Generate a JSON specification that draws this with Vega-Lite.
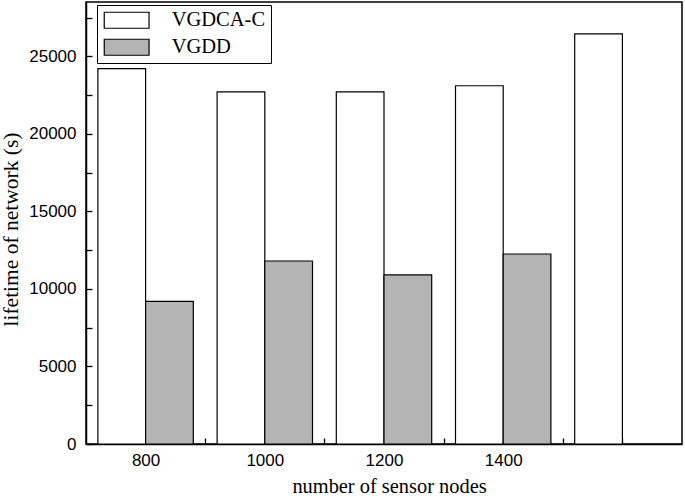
{
  "$schema": "https://vega.github.io/schema/vega-lite/v6.json",
  "width": 596,
  "height": 442,
  "autosize": {"type": "none"},
  "padding": {"left": 86, "top": 2, "right": 3, "bottom": 53},
  "background": "white",
  "config": {
    "view": {"stroke": "black", "strokeWidth": 1.5},
    "axis": {
      "domainColor": "black",
      "domainWidth": 1.5,
      "tickColor": "black",
      "tickWidth": 1.3,
      "grid": false,
      "labelFont": "Liberation Sans",
      "labelFontSize": 17,
      "labelColor": "black",
      "titleFont": "Liberation Serif",
      "titleFontWeight": "normal",
      "titleColor": "black"
    }
  },
  "data": {
    "values": [
      {"n": 800, "series": "VGDCA-C", "lifetime": 24200},
      {"n": 1000, "series": "VGDCA-C", "lifetime": 22700},
      {"n": 1200, "series": "VGDCA-C", "lifetime": 22700},
      {"n": 1400, "series": "VGDCA-C", "lifetime": 23100},
      {"n": 1600, "series": "VGDCA-C", "lifetime": 26450},
      {"n": 800, "series": "VGDD", "lifetime": 9200},
      {"n": 1000, "series": "VGDD", "lifetime": 11800},
      {"n": 1200, "series": "VGDD", "lifetime": 10900},
      {"n": 1400, "series": "VGDD", "lifetime": 12250}
    ]
  },
  "encoding": {
    "x": {
      "field": "n",
      "type": "quantitative",
      "scale": {"domain": [700, 1700], "nice": false, "zero": false, "padding": 0},
      "axis": {
        "title": "number of sensor nodes",
        "titleFontSize": 20.4,
        "titleX": 303,
        "titleY": 48,
        "titleBaseline": "alphabetic",
        "titleAlign": "center",
        "values": [800, 900, 1000, 1100, 1200, 1300, 1400, 1500, 1600],
        "labelExpr": "(datum.value % 200 == 0 && datum.value <= 1400) ? datum.value : ''",
        "tickSize": -6,
        "labelPadding": 14
      }
    },
    "y": {
      "field": "lifetime",
      "type": "quantitative",
      "scale": {"domain": [0, 28500], "nice": false},
      "axis": {
        "title": "lifetime of network (s)",
        "titleFontSize": 21.5,
        "titleX": -69,
        "titleY": 227,
        "titleAngle": -90,
        "titleBaseline": "alphabetic",
        "titleAlign": "center",
        "values": [0, 2500, 5000, 7500, 10000, 12500, 15000, 17500, 20000, 22500, 25000, 27500],
        "labelExpr": "datum.value % 5000 == 0 ? datum.value : ''",
        "tickSize": -6,
        "labelPadding": 16
      }
    },
    "fill": {
      "field": "series",
      "type": "nominal",
      "scale": {"domain": ["VGDCA-C", "VGDD"], "range": ["white", "#b4b4b4"]},
      "legend": {
        "title": null,
        "orient": "none",
        "legendX": 11,
        "legendY": 3,
        "strokeColor": "black",
        "padding": 5,
        "rowPadding": 5,
        "symbolOffset": 14.4,
        "labelOffset": 34.8,
        "labelFont": "Liberation Serif",
        "labelFontSize": 20.5,
        "labelColor": "black",
        "symbolType": "M-2.8,-1L2.8,-1L2.8,1L-2.8,1Z",
        "symbolSize": 256,
        "symbolStrokeColor": "black",
        "symbolStrokeWidth": 1.2
      }
    }
  },
  "layer": [
    {
      "transform": [{"filter": "datum.series == 'VGDCA-C'"}],
      "mark": {"type": "bar", "width": 47.7, "xOffset": -23.85, "stroke": "black", "strokeWidth": 1.2}
    },
    {
      "transform": [{"filter": "datum.series == 'VGDD'"}],
      "mark": {"type": "bar", "width": 47.7, "xOffset": 23.85, "stroke": "black", "strokeWidth": 1.2}
    }
  ]
}
